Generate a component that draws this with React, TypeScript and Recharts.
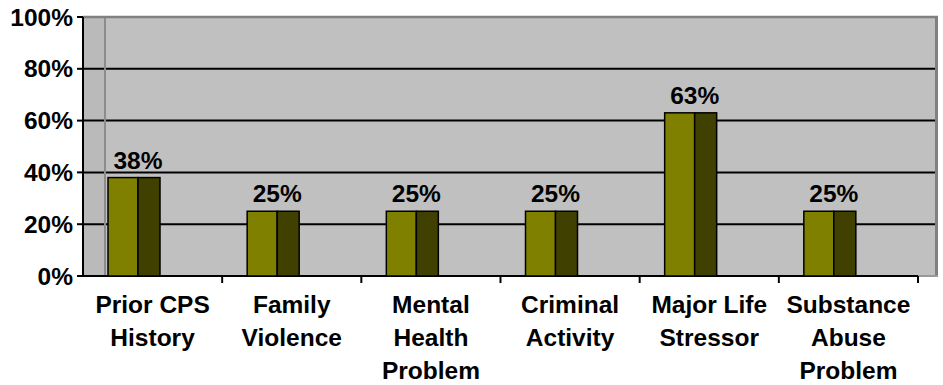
import { BarChart, Bar, XAxis, YAxis, CartesianGrid, LabelList, usePlotArea } from "recharts";

const categories = [
  "Prior CPS\nHistory",
  "Family\nViolence",
  "Mental\nHealth\nProblem",
  "Criminal\nActivity",
  "Major Life\nStressor",
  "Substance\nAbuse\nProblem",
];
const percentages = [38, 25, 25, 25, 63, 25];
const yTicks = [0, 20, 40, 60, 80, 100];

const data = categories.map((name, i) => ({ name, value: percentages[i] }));

const FONT = "'Liberation Sans', Arial, Helvetica, sans-serif";
const FONT_SIZE = 24.5;
const PAD_RIGHT = 20; // depth of the 3d floor on the right
const SHIFT = 19; // columns sit towards the front-left of each band
const WALL = 22;

function Column(props: any) {
  const { x, y, width, height } = props;
  if (height == null || height <= 0) return null;
  const front = (width * 30) / 52;
  const x0 = x - SHIFT;
  return (
    <g>
      <rect x={x0} y={y} width={front} height={height} fill="#808000" stroke="#000" strokeWidth={1.5} />
      <rect x={x0 + front} y={y} width={width - front} height={height} fill="#404000" stroke="#000" strokeWidth={1.5} />
    </g>
  );
}

function ValueLabel(props: any) {
  const { x, y, width, value } = props;
  return (
    <text
      x={x - SHIFT + width / 2 + 4}
      y={y - 9}
      textAnchor="middle"
      fill="#000"
      fontFamily={FONT}
      fontWeight="bold"
      fontSize={FONT_SIZE}
    >
      {value}%
    </text>
  );
}

function XTick(props: any) {
  const { x, y, payload } = props;
  const lines = String(payload.value).split("\n");
  return (
    <text textAnchor="middle" fill="#000" fontFamily={FONT} fontWeight="bold" fontSize={FONT_SIZE}>
      {lines.map((l, i) => (
        <tspan key={i} x={x} y={y + 31 + i * 33}>
          {l}
        </tspan>
      ))}
    </text>
  );
}

function PlotFrame() {
  const area = usePlotArea();
  if (!area) return null;
  const { x, y, width, height } = area;
  const bottom = y + height;
  const front = width - PAD_RIGHT;
  const band = front / data.length;
  return (
    <g>
      <rect x={x} y={y} width={WALL} height={height} fill="#000" fillOpacity={0.03} />
      <line x1={x + WALL} y1={y} x2={x + WALL} y2={bottom} stroke="#8c8c8c" strokeWidth={2} />
      <line x1={x} y1={y} x2={x + width} y2={y} stroke="#808080" strokeWidth={2.5} />
      <line x1={x + width - 1.5} y1={y} x2={x + width - 1.5} y2={bottom + 1} stroke="#808080" strokeWidth={3} />
      <line x1={x + front} y1={bottom} x2={x + width} y2={bottom} stroke="#999" strokeWidth={2} />
      <line x1={x} y1={bottom} x2={x + front} y2={bottom} stroke="#000" strokeWidth={2} />
      {data.map((_, i) => (
        <line key={i} x1={x + (i + 1) * band} y1={bottom} x2={x + (i + 1) * band} y2={bottom + 7} stroke="#000" strokeWidth={2} />
      ))}
    </g>
  );
}

export default function App() {
  return (
    <div style={{ position: "absolute", left: 0, top: 0, background: "#fff" }}>
      <BarChart width={943} height={385} data={data} margin={{ top: 17, right: 5, bottom: 0, left: 0 }} barSize={52}>
        <CartesianGrid vertical={false} stroke="#000" strokeWidth={2} fill="#C0C0C0" fillOpacity={1} />
        <XAxis
          dataKey="name"
          height={109}
          padding={{ left: 0, right: PAD_RIGHT }}
          axisLine={false}
          tickLine={false}
          tickSize={6}
          tickMargin={0}
          interval={0}
          tick={<XTick />}
        />
        <YAxis
          width={83}
          domain={[0, 100]}
          ticks={yTicks}
          interval={0}
          tickFormatter={(v) => `${v}%`}
          axisLine={{ stroke: "#000", strokeWidth: 2 }}
          tickLine={{ stroke: "#000", strokeWidth: 2 }}
          tickSize={6}
          tickMargin={4}
          tick={{ fill: "#000", fontFamily: FONT, fontWeight: "bold", fontSize: FONT_SIZE }}
        />
        <PlotFrame />
        <Bar dataKey="value" isAnimationActive={false} shape={(p: any) => <Column {...p} />}>
          <LabelList dataKey="value" content={(p: any) => <ValueLabel {...p} />} />
        </Bar>
      </BarChart>
    </div>
  );
}
